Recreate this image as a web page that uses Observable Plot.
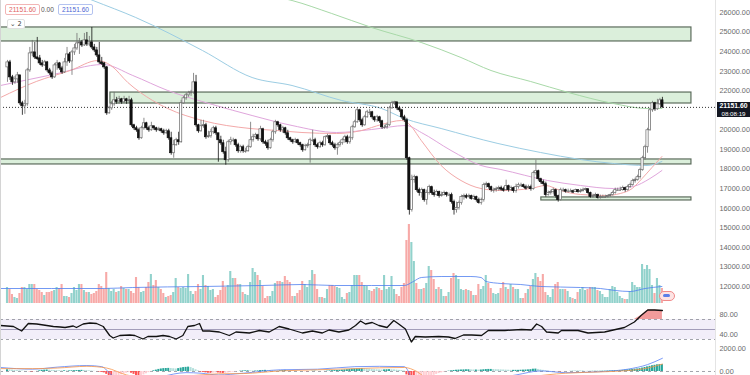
<!DOCTYPE html>
<html><head><meta charset="utf-8">
<script src="https://cdn.jsdelivr.net/npm/d3@7"></script>
<script src="https://cdn.jsdelivr.net/npm/@observablehq/plot@0.6"></script>
<style>
html,body{margin:0;padding:0;background:#fff;}
#wrap{position:relative;width:750px;height:375px;overflow:hidden;background:#fff;font-family:"Liberation Sans",Arial,sans-serif;}
#wrap svg{position:absolute;left:0;}
</style></head><body><div id="wrap"></div>
<script>
// ---------------- DATA ----------------
const lastPrice = 21151.6;
const firstOpen = 23195;
const close = [
23450,22685,22430,22583,22787,21359,21206,21308,23042,23909,
23960,23705,23654,23399,23297,23450,23042,22889,22685,23297,
23399,23144,22940,23450,23858,23501,23960,24164,24419,24470,
24317,24572,24368,24470,24215,24062,23807,23450,23399,23195,
20849,21104,21308,21512,21461,21563,21410,21563,21461,21512,
20237,20084,19982,19574,20084,20339,20084,19982,20186,20084,
19982,20033,19931,19829,19931,19574,18809,19217,19472,19370,
21359,21614,21767,21869,21920,22430,20237,19931,20186,20237,
19625,19676,19880,20084,19829,19472,19319,18860,18452,19370,
19472,19472,19217,18911,19115,18911,18911,19115,19472,19625,
19727,19523,20033,19370,19319,19064,19472,19880,20390,20237,
19982,20084,19829,19574,19472,19370,19472,19319,19217,18962,
19166,19217,19472,19472,19217,19115,19319,19217,19625,19676,
19319,19217,19064,19217,19319,19472,19625,19370,19574,20135,
20390,21002,20492,20237,20645,20900,20900,20645,20492,20645,
20441,20135,20135,20237,21104,21359,21410,21104,21002,20645,
20492,18554,15902,17432,17585,16922,16769,16922,16412,16769,
17075,16769,16667,16820,16616,16667,16769,16667,16667,16310,
15902,16004,16259,16565,16616,16565,16616,16463,16565,16412,
16259,16412,17177,17228,17075,16922,16922,16973,17024,16973,
16922,17126,16922,17024,16871,17075,17177,17177,17075,17024,
17075,16973,17789,17891,17483,17330,17228,16667,16769,16820,
16922,16616,16412,16922,16922,16871,16871,16871,16820,16922,
16820,16871,16922,16973,16769,16565,16616,16667,16514,16565,
16565,16565,16616,16667,16769,16922,16922,16922,17024,16922,
17075,17177,17381,17432,17585,17942,18554,19115,19982,21002,
21359,21053,21308,21512,21151.6];
const high = [
23552,23552,22787,22736,22940,22787,21461,21512,23144,24215,
24572,24470,24725,23807,23552,23552,23501,23144,22991,23399,
23552,23450,23246,23654,24215,23960,24062,24368,24929,24674,
24572,24929,24980,24776,25235,24368,24215,24470,23705,23450,
23246,21206,21461,21920,21665,21716,21614,21716,21614,21716,
21614,20288,20186,20084,20186,20594,20390,20186,20390,20186,
20135,20135,20084,20033,20033,20033,19880,19472,19574,19880,
21512,21716,21869,21971,22022,22889,22787,20288,20492,20492,
20339,19931,20033,20186,20186,19778,19676,19472,19115,19472,
19625,19574,19523,19319,19217,19217,19064,19217,20390,19778,
19829,19778,20186,20084,19472,19472,19574,19982,20492,20441,
20288,20186,20135,19982,19625,19523,19574,19523,19370,19268,
19268,19319,19574,19982,19574,19319,19421,19421,19676,19778,
19727,19421,19319,19319,19421,19574,19727,19727,19676,20237,
20492,21104,21053,20594,20747,21002,21053,20951,20696,20747,
20696,20492,20237,20339,21206,21461,21461,21410,21206,21053,
20747,20594,18605,17687,17687,17636,17024,17024,16973,16922,
17177,17126,16922,16922,16871,16820,16871,16820,16769,16769,
16412,16310,16361,16667,16718,16718,16718,16667,16667,16616,
16514,16514,17279,17330,17279,17126,17024,17075,17126,17126,
17075,17432,17177,17126,17075,17228,17279,17279,17228,17177,
17177,17177,17891,18452,17942,17534,17432,17330,16871,16922,
17024,16973,16667,17024,17024,16973,16973,16973,16922,16973,
16922,16973,17024,17024,16973,16820,16718,16769,16718,16667,
16667,16667,16667,16718,16871,17024,17024,17075,17126,17075,
17177,17279,17483,17534,17687,18044,18656,19217,20084,21104,
21461,21410,21563,21614,21665];
const low = [
22430,22532,22277,22328,22379,21257,20747,20798,21206,22940,
23756,23603,23552,23297,23195,23246,22940,22787,22583,22634,
23042,23042,22838,22889,23246,23399,22787,23807,24062,23858,
24215,24266,24266,24266,24113,23960,23705,23348,23297,23093,
20747,20798,21002,21206,21308,21308,21308,21359,21308,21359,
20135,19982,19880,19472,19523,19982,19982,19880,19931,19982,
19880,19931,19829,19727,19778,19472,18707,18554,19166,19217,
19319,21308,21512,21665,21716,21818,20135,19829,19880,20084,
19523,19574,19574,19778,19727,18350,19217,18758,18197,18350,
19217,19370,19115,18809,18809,18809,18809,18860,19064,19370,
19523,19421,19421,19268,19166,18962,19013,19370,19778,20135,
19880,19829,19727,19472,19370,19268,19319,19217,19115,18860,
18911,19064,18299,19370,19115,19013,19064,19115,19166,19523,
19217,19115,18962,18707,19115,19217,19319,19268,19268,19472,
20084,20339,20390,20135,20186,20594,20747,20543,20390,20390,
20339,20033,20033,20033,20186,21053,21257,21002,20900,20543,
20390,18452,15647,15800,17279,16820,16616,16514,16310,16157,
16667,16667,16565,16616,16514,16565,16616,16565,16616,16208,
15647,15749,15902,16157,16412,16463,16514,16412,16412,16310,
16208,16157,16310,17024,16973,16820,16769,16820,16871,16871,
16820,16871,16820,16871,16769,16769,16973,17075,17024,16922,
16973,16871,16922,17687,17381,17228,17126,16565,16616,16667,
16718,16514,16310,16361,16820,16769,16769,16820,16769,16820,
16769,16769,16820,16871,16718,16514,16514,16565,16463,16463,
16514,16514,16514,16565,16616,16718,16871,16871,16871,16820,
16871,17024,17126,17279,17381,17483,17891,18452,18809,19931,
20900,20951,21002,21257,21104];
const volume = [
16,14,9,6,5,10,16,16,14,19,
19,19,14,13,11,8,11,11,12,13,
16,15,19,7,7,6,10,16,13,19,
19,13,11,11,9,10,12,19,17,14,
31,15,12,14,11,12,17,15,14,14,
12,10,26,16,11,12,16,21,29,18,
23,16,14,10,6,7,8,11,25,16,
15,16,15,29,12,9,12,19,14,28,
18,17,13,14,6,8,13,22,16,18,
32,25,25,19,19,11,9,8,21,35,
31,28,23,17,5,7,7,12,20,22,
22,21,27,23,21,7,7,10,13,22,
19,16,23,33,29,14,6,6,5,14,
18,18,17,16,15,6,4,10,11,18,
28,28,28,21,18,17,13,12,14,16,15,
13,28,14,16,27,14,9,7,16,20,
63,79,61,42,20,14,14,15,20,37,
33,24,14,16,14,7,7,11,25,30,
28,24,14,13,14,13,12,8,8,19,
14,17,28,20,15,10,9,10,15,21,
16,14,19,16,14,14,5,5,10,14,
17,24,30,26,22,29,11,8,6,14,
19,21,14,14,14,12,6,5,4,11,
14,16,13,14,16,16,16,13,12,9,
6,6,14,17,16,11,7,5,4,4,
12,21,18,16,16,39,34,38,34,18,
10,25,18,15];
const volMaIdx = [-2.8,38.5,50.5,78.6,102.6,118.7,131.9,146.8,160,163.6,166.8,174.8,186.8,190.9,192.9,198.9,206.9,214.9,231,239,245,251,257,263.8];
const volMaVal = [15,15,16,17,18,19,18,18,18,22,26,27,27,26,22,20,19,17,16,15,13,12,15,17];

// moving averages (candle index, price)
const ma200Idx = [98.6,114.7,130.7,146.8,166.8,182.8,194.9,210.9,226.1,244.2,257.8,263.8];
const ma200Val = [27022,26613,25949,25233,24467,23700,23036,22474,21912,21350,21094,21094];
const ma100Idx = [14.4,34.5,51.7,78.6,98.6,114.7,134.7,150.8,160,174.8,197.7,214.9,231,244.2,257.8,263.8];
const ma100Val = [27635,26613,25744,24058,22678,22270,21503,21094,20583,20072,19306,18846,18488,18284,18182,18386];
const ma50Idx = [-2.8,18.4,38.5,50.5,64.6,82.6,98.6,114.7,132.7,146.8,160.8,166.8,178.8,190.9,198.9,217.7,231,244.2,252.2,259,263.8];
const ma50Val = [22270,22832,23343,22781,22014,21299,20736,20226,19868,20021,20226,19868,18948,18182,17977,17415,17160,17006,17109,17517,17926];
const ma20Idx = [-2.8,11.6,25.3,36.5,41.7,48.5,58.5,64.6,78.6,97.8,108.7,118.7,132.7,142.7,150.8,158.8,161.6,166.8,174.8,182.8,190.9,198.9,210.9,216.9,222.9,231,241,247,251.8,255.8,259.8,263.8];
const ma20Val = [21656,22474,23036,23547,23292,22423,21503,21094,20481,20072,19970,19868,19817,19970,20277,20481,20328,19459,18182,17415,17006,16904,17006,17160,16904,16700,16649,16751,17006,17517,18079,18641];

// support / resistance zones
const zoneLo = [24520, 21350, 18235, 16395];
const zoneHi = [25235, 21910, 18490, 16550];
const zoneStart = [-5, 41.5, -5, 215.2];
const zoneEnd = [275.7, 275.7, 275.7, 275.7];

// RSI
const rsiIdx = [-2.8,2.4,5.7,8.4,11.8,18.5,21.2,23.2,26.5,27.8,30.5,33.2,35.9,38.6,41.2,42.6,45.3,49.3,51.3,54.6,56.6,60,62.7,65.3,68,70.7,72.7,75.4,77.4,78.7,81.4,85.4,89.4,92.1,97.5,101.5,105.5,109.5,113.5,118.9,122.9,126.9,129.6,133.6,137.6,140.3,142.3,144.3,147,149.7,153,155.7,157.7,160.4,162.8,164.4,168.4,173.8,177.8,180.4,183.8,187.1,191.1,193.8,200.5,207.2,211.2,213.3,215.3,217.3,222,223.3,230,234,240.7,246,248.7,252.7,255.4,258.1,260.8,264];
const rsiVal = [58,56,47,62,61,56,55,54,57,54,61,63,62,56,38,33,38,39,38,31,36,36,38,36,31,38,56,58,62,47,47,45,38,45,43,48,45,56,51,43,47,43,49,45,49,58,67,61,64,58,54,68,61,51,25,36,35,36,35,32,39,39,38,48,48,50,49,61,56,45,43,48,48,43,45,51,54,65,78,89,89,88];
const rsiTicks = [80, 40];

// MACD
const macdHist = [
150,140,120,100,80,60,40,20,10,-20,
-40,-30,10,60,100,120,130,120,100,90,
80,70,60,60,50,50,60,70,80,90,
100,90,80,60,40,20,0,-40,-80,-120,
-250,-450,-550,-500,-450,-380,-300,-220,-150,-100,
-150,-250,-380,-420,-380,-300,-200,-100,-20,60,
120,180,220,250,260,270,260,240,220,250,
300,340,360,380,340,250,150,50,-50,-80,
-120,-150,-160,-140,-120,-130,-150,-170,-160,-130,
-100,-60,-30,0,30,50,60,60,50,40,
40,50,80,90,100,90,80,70,60,50,
60,80,100,90,70,50,30,20,10,0,
-10,-20,0,20,30,20,10,0,10,30,
50,70,80,90,100,120,140,160,180,200,
220,230,240,250,240,220,200,180,160,150,
140,130,140,150,160,150,140,120,100,80,
40,-300,-900,-1300,-1400,-1300,-1100,-950,-800,-650,
-520,-420,-330,-250,-180,-120,-60,-10,30,60,
90,110,120,130,140,150,150,140,130,130,
120,130,150,170,180,180,170,160,150,140,
130,120,110,100,100,100,100,110,120,130,
140,160,200,210,180,140,100,60,30,10,
0,-10,-20,-30,-20,-10,0,10,20,20,
20,20,20,10,10,10,20,20,20,20,
30,30,40,50,60,70,80,90,100,120,
140,160,180,200,220,250,300,350,400,450,
500,540,580,600,600];
const macdIdx = [-2.8,10,20,32,38,42,48,55,62,72,78,85,95,110,125,140,150,160,163,168,175,190,205,215,225,240,250,258,264];
const macdVal = [350,200,380,520,420,-300,-700,-800,-450,-100,-150,-300,-150,150,200,420,450,420,-600,-2200,-2000,-900,-300,50,-100,0,200,600,1150];
const signalIdx = [-2.8,10,20,32,40,48,55,65,75,85,95,110,125,140,150,160,165,172,180,195,210,225,240,250,258,264];
const signalVal = [250,250,300,450,300,-300,-500,-450,-350,-200,-180,50,150,250,320,350,0,-1200,-1700,-1200,-500,-150,-30,80,300,650];
const macdTicks = [2000, 0];
const priceTicks = [26000,25000,24000,23000,22000,20000,19000,18000,17000,16000,15000,14000,13000,12000];

// ---------------- BUILD ----------------
const N = Math.min(close.length, high.length, low.length);
const candles = d3.range(N).map(i => {
  const o = i === 0 ? firstOpen : close[i - 1];
  return {i, o, c: close[i], h: high[i], l: low[i], up: close[i] >= o, v: volume[i] ?? 0};
});
const pts = (xs, ys) => xs.map((x, k) => ({i: x, v: ys[k]}));
const zones = zoneLo.map((lo, k) => ({lo, hi: zoneHi[k], x1: zoneStart[k], x2: zoneEnd[k]}));

const W = 750, MR = 35;
const xDomain = [-2.82, 285.4];
const font = "Liberation Sans, Arial, sans-serif";
const base = {
  width: W, marginLeft: 0, marginRight: MR, marginTop: 0, marginBottom: 0,
  x: {type: "linear", domain: xDomain, axis: null},
  color: {type: "identity"},
  style: {background: "transparent", fontFamily: font, fontSize: "7.3px", color: "#6a6a6a", overflow: "visible"}
};
const axisR = (ticks) => Plot.axisY({anchor: "right", ticks, tickSize: 0, tickPadding: 4, tickFormat: d => d.toFixed(2), label: null});

const wrap = document.getElementById("wrap");

// volume overlay
const volPlot = Plot.plot({
  ...base, height: 80,
  y: {domain: [0, 80], axis: null},
  marks: [
    Plot.rect(candles, {x1: d => d.i - 0.42, x2: d => d.i + 0.42, y1: 0, y2: "v",
      fill: d => d.up ? "#26a69a" : "#ef5350", fillOpacity: 0.5}),
    Plot.line(pts(volMaIdx, volMaVal), {x: "i", y: "v", stroke: "#4f7ff0", strokeWidth: 0.8, curve: "monotone-x"})
  ]
});
volPlot.style.top = "223px";
wrap.appendChild(volPlot);

// main price pane
const main = Plot.plot({
  ...base, height: 305,
  y: {domain: [11028, 26613]},
  marks: [
    Plot.rect(zones, {x1: "x1", x2: "x2", y1: "lo", y2: "hi", fill: "#dbefdb", stroke: "#5c6c5c", strokeWidth: 1.2}),
    Plot.line(pts(ma200Idx, ma200Val), {x: "i", y: "v", stroke: "#a8d9a8", strokeWidth: 1, curve: "monotone-x", clip: true}),
    Plot.line(pts(ma100Idx, ma100Val), {x: "i", y: "v", stroke: "#9ccde3", strokeWidth: 1, curve: "monotone-x", clip: true}),
    Plot.line(pts(ma50Idx, ma50Val), {x: "i", y: "v", stroke: "#e0a6dc", strokeWidth: 1, curve: "monotone-x", clip: true}),
    Plot.line(pts(ma20Idx, ma20Val), {x: "i", y: "v", stroke: "#f3a9a9", strokeWidth: 1, curve: "monotone-x", clip: true}),
    Plot.ruleY([lastPrice], {stroke: "#333", strokeWidth: 1, strokeDasharray: "1,2"}),
    Plot.ruleX(candles, {x: "i", y1: "l", y2: "h", stroke: d => d.up ? "#707070" : "#111", strokeWidth: 0.8}),
    Plot.rect(candles, {x1: d => d.i - 0.45, x2: d => d.i + 0.45, y1: "o", y2: "c",
      fill: d => d.up ? "#ffffff" : "#111111", stroke: d => d.up ? "#6a6a6a" : "#111111", strokeWidth: 0.7}),
    Plot.ruleY(candles.filter(d => Math.abs(d.o - d.c) < 60), {y: "c", x1: d => d.i - 0.5, x2: d => d.i + 0.5,
      stroke: d => d.up ? "#6a6a6a" : "#111", strokeWidth: 1}),
    axisR(priceTicks)
  ]
});
main.style.top = "0px";
wrap.appendChild(main);

// RSI pane
const rsi = pts(rsiIdx, rsiVal);
const ob = rsi.filter(d => d.i >= 252.7).map(d => ({i: d.i, v: Math.max(70, d.v)}));
const rsiPlot = Plot.plot({
  ...base, height: 39,
  y: {domain: [18, 96]},
  marks: [
    Plot.rect([0], {x1: xDomain[0], x2: xDomain[1], y1: 30, y2: 70, fill: "#7e57c2", fillOpacity: 0.1}),
    Plot.ruleY([70, 30], {stroke: "#8a8d96", strokeWidth: 0.8, strokeDasharray: "3,3"}),
    Plot.ruleY([50], {stroke: "#8e88aa", strokeWidth: 0.8}),
    Plot.areaY(ob, {x: "i", y1: 70, y2: "v", fill: "#f08a8a", fillOpacity: 0.85}),
    Plot.line(rsi, {x: "i", y: "v", stroke: "#111", strokeWidth: 1.3}),
    axisR(rsiTicks)
  ]
});
rsiPlot.style.top = "306px";
wrap.appendChild(rsiPlot);

// MACD pane
const hist = candles.map(d => {
  const h = macdHist[d.i] ?? 0, p = d.i > 0 ? (macdHist[d.i - 1] ?? 0) : h;
  const col = h >= 0 ? (h >= p ? "#26a69a" : "#b2dfdb") : (h <= p ? "#ff5252" : "#ffcdd2");
  return {i: d.i, h, col};
});
const macdPlot = Plot.plot({
  ...base, height: 29,
  y: {domain: [-348, 2174]},
  marks: [
    Plot.ruleY([0], {stroke: "#8a8d96", strokeWidth: 0.8, strokeDasharray: "3,3"}),
    Plot.rect(hist, {x1: d => d.i - 0.4, x2: d => d.i + 0.4, y1: 0, y2: "h", fill: "col", clip: true}),
    Plot.line(pts(macdIdx, macdVal), {x: "i", y: "v", stroke: "#5b82f5", strokeWidth: 0.8, curve: "monotone-x", clip: true}),
    Plot.line(pts(signalIdx, signalVal), {x: "i", y: "v", stroke: "#f7964a", strokeWidth: 0.8, curve: "monotone-x", clip: true}),
    axisR(macdTicks)
  ]
});
macdPlot.style.top = "346px";
wrap.appendChild(macdPlot);

// decorations: borders, legend, price label
const addDiv = (css, html) => { const d = document.createElement("div"); d.style.cssText = css; if (html) d.innerHTML = html; wrap.appendChild(d); return d; };
addDiv("position:absolute;left:715px;top:0;width:1px;height:375px;background:#e4e4e4;");
addDiv("position:absolute;left:0;top:0;width:1px;height:375px;background:#d4d4d4;");

const py = main.scale("y").apply(lastPrice);
addDiv(`position:absolute;left:717px;top:${py - 4.5}px;width:33px;height:15px;background:#131722;color:#fff;font-family:${font};text-align:center;`,
  `<div style="font-size:6.8px;font-weight:bold;line-height:7.5px;">${lastPrice.toFixed(2)}</div><div style="font-size:6.2px;line-height:7px;">08:08:19</div>`);

addDiv(`position:absolute;left:5px;top:4px;font-size:6.6px;line-height:9px;padding:0 3px;border:1px solid #f2b5b5;border-radius:2px;color:#e06262;background:#fff;font-family:${font};`, lastPrice.toFixed(2));
addDiv(`position:absolute;left:41px;top:5px;font-size:6.6px;line-height:9px;color:#555;font-family:${font};`, (0).toFixed(2));
addDiv(`position:absolute;left:58px;top:4px;font-size:6.6px;line-height:9px;padding:0 3px;border:1px solid #b4c3f0;border-radius:2px;color:#4a66d4;background:#fff;font-family:${font};`, lastPrice.toFixed(2));
addDiv(`position:absolute;left:7px;top:19px;font-size:6.6px;line-height:8px;padding:0 2px;border:1px solid #e0e0e0;border-radius:2px;color:#444;background:#fff;font-family:DejaVu Sans, ${font};`, "⌄ 2");

// volume badge
addDiv("position:absolute;left:659px;top:291px;width:14px;height:8px;border:1px solid #f08a8a;border-radius:5px;background:#fde4e4;");
addDiv("position:absolute;left:663px;top:294px;width:7px;height:3px;border-radius:2px;background:#5b7fe8;");
</script></body></html>
